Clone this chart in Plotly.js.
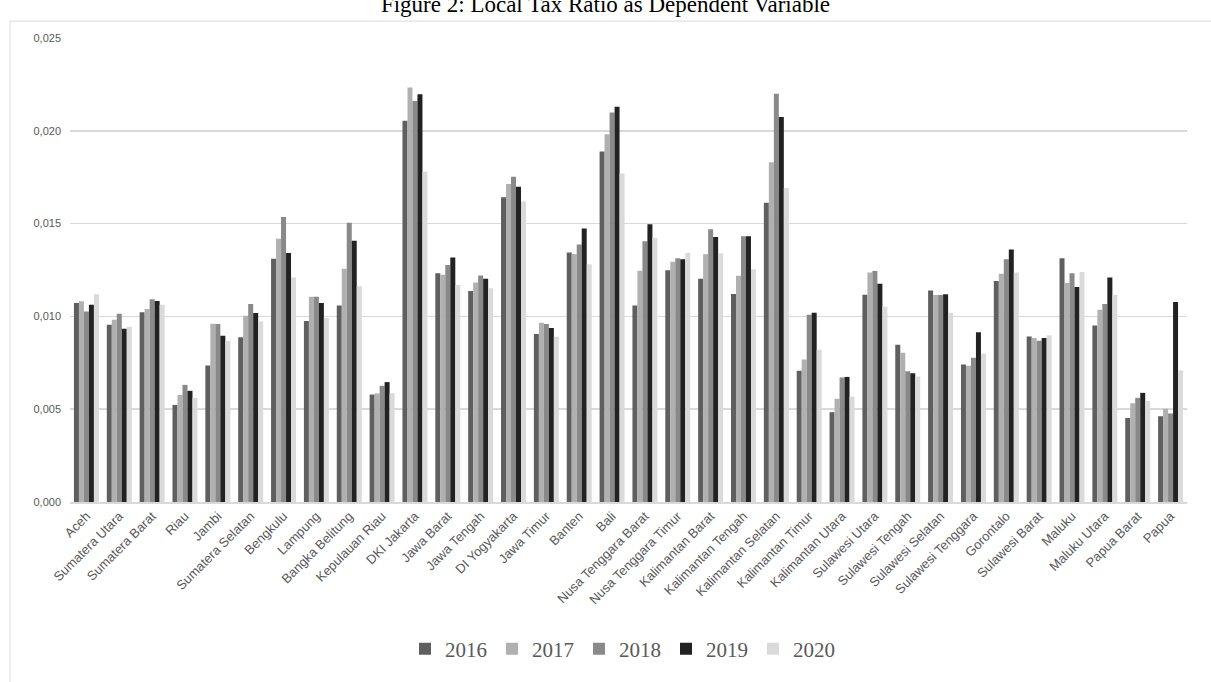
<!DOCTYPE html>
<html>
<head>
<meta charset="utf-8">
<script src="https://cdn.plot.ly/plotly-3.0.1.min.js"></script>
<style>html,body{margin:0;padding:0;background:#fff;}#chart{width:1211px;height:682px;}</style>
</head>
<body>
<div id="chart"></div>
<script>
const provinces = ["Aceh","Sumatera Utara","Sumatera Barat","Riau","Jambi","Sumatera Selatan","Bengkulu","Lampung","Bangka Belitung","Kepulauan Riau","DKI Jakarta","Jawa Barat","Jawa Tengah","DI Yogyakarta","Jawa Timur","Banten","Bali","Nusa Tenggara Barat","Nusa Tenggara Timur","Kalimantan Barat","Kalimantan Tengah","Kalimantan Selatan","Kalimantan Timur","Kalimantan Utara","Sulawesi Utara","Sulawesi Tengah","Sulawesi Selatan","Sulawesi Tenggara","Gorontalo","Sulawesi Barat","Maluku","Maluku Utara","Papua Barat","Papua"];

const y2016 = [0.01072,0.00955,0.01023,0.00523,0.00736,0.00887,0.01311,0.00975,0.01059,0.00579,0.02054,0.01232,0.01137,0.01642,0.00905,0.01344,0.01888,0.01059,0.01248,0.01203,0.01121,0.01613,0.00707,0.00484,0.01117,0.00847,0.01140,0.00741,0.01191,0.00892,0.01313,0.00951,0.00453,0.00462];
const y2017 = [0.01081,0.00982,0.01040,0.00577,0.00960,0.01004,0.01419,0.01106,0.01257,0.00585,0.02233,0.01225,0.01182,0.01714,0.00966,0.01336,0.01982,0.01246,0.01295,0.01335,0.01219,0.01831,0.00768,0.00556,0.01236,0.00804,0.01115,0.00734,0.01230,0.00883,0.01180,0.01036,0.00532,0.00502];
const y2018 = [0.01027,0.01014,0.01092,0.00631,0.00959,0.01067,0.01536,0.01106,0.01505,0.00626,0.02161,0.01277,0.01221,0.01752,0.00959,0.01388,0.02099,0.01405,0.01313,0.01469,0.01432,0.02199,0.01009,0.00671,0.01245,0.00705,0.01115,0.00777,0.01308,0.00869,0.01232,0.01067,0.00561,0.00477];
const y2019 = [0.01063,0.00933,0.01083,0.00599,0.00896,0.01018,0.01342,0.01072,0.01408,0.00646,0.02197,0.01317,0.01203,0.01698,0.00937,0.01473,0.02129,0.01496,0.01308,0.01428,0.01432,0.02075,0.01020,0.00674,0.01176,0.00694,0.01119,0.00914,0.01360,0.00883,0.01158,0.01209,0.00588,0.01077];
const y2020 = [0.01120,0.00944,0.01063,0.00561,0.00867,0.00973,0.01210,0.00991,0.01162,0.00586,0.01779,0.01169,0.01151,0.01619,0.00890,0.01281,0.01770,0.01424,0.01342,0.01340,0.01254,0.01692,0.00820,0.00568,0.01052,0.00676,0.01020,0.00799,0.01236,0.00899,0.01239,0.01115,0.00545,0.00709];

const years = ["2016","2017","2018","2019","2020"];
const seriesValues = [y2016,y2017,y2018,y2019,y2020];
const colors = ["#5f5f5f","#b0b0b0","#898989","#222222","#dadada"];

const yTicks = [0,0.005,0.010,0.015,0.020,0.025];

const traces = years.map((yr,i)=>({
  type:'bar', name:yr, x:provinces, y:seriesValues[i],
  marker:{color:colors[i], line:{width:0}},
  hoverinfo:'x+y+name'
}));

const layout = {
  width:1211, height:682,
  margin:{l:70, r:24, t:38, b:177},
  paper_bgcolor:'#ffffff', plot_bgcolor:'#ffffff',
  separators:',.',
  barmode:'group', bargap:0.24, bargroupgap:0,
  title:{text:'Figure 2: Local Tax Ratio as Dependent Variable',
         font:{family:'Liberation Serif, serif', size:23, color:'#000000'},
         x:0.5, xanchor:'center', y:1-12/682, yanchor:'bottom'},
  xaxis:{type:'category', tickangle:-45, tickfont:{family:'Liberation Sans, Arial, sans-serif', size:13, color:'#595959'},
         showline:true, linecolor:'#d9d9d9', linewidth:1.5, ticks:'', showgrid:false, automargin:false},
  yaxis:{range:[0,0.025], tickvals:yTicks, tickformat:'.3f', showgrid:true, gridcolor:'#d9d9d9', gridwidth:1.5,
         zeroline:false, showline:false, ticks:'', ticklabelstandoff:8,
         tickfont:{family:'Liberation Sans Narrow, Liberation Sans, sans-serif', size:11, color:'#595959'}, automargin:false},
  legend:{orientation:'h', x:0.5 - 6/1117, xanchor:'center', y:(505-653)/467, yanchor:'middle',
          font:{family:'Liberation Serif, serif', size:21, color:'#595959'}, itemwidth:30, traceorder:'normal'},
  shapes:[{type:'rect', xref:'paper', yref:'paper', x0:(10-70)/1117, x1:1.06, y0:-0.5, y1:(505-21)/467,
           line:{color:'#d9d9d9', width:1}, fillcolor:'rgba(0,0,0,0)', layer:'below'}],
  showlegend:true
};

Plotly.newPlot('chart', traces, layout, {displayModeBar:false, staticPlot:true});
</script>
</body>
</html>
